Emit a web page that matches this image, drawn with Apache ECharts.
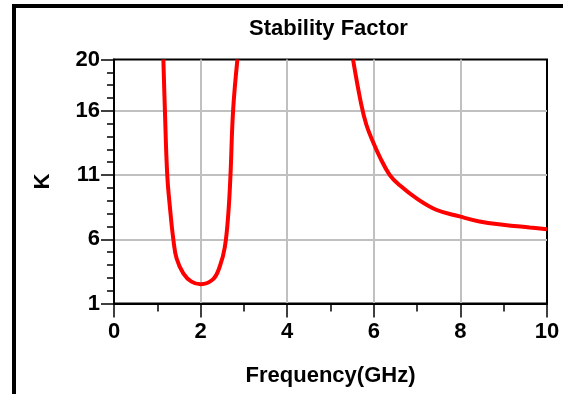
<!DOCTYPE html>
<html>
<head>
<meta charset="utf-8">
<title>Stability Factor</title>
<script src="https://cdn.jsdelivr.net/npm/echarts@6/dist/echarts.min.js"></script>
<style>
  html, body { margin: 0; padding: 0; background: #fff; overflow: hidden; }
  #chart { width: 563px; height: 394px; }
</style>
</head>
<body>
<div id="chart"></div>
<script>
// left branch (low frequency dip)
var freqA = [1.14, 1.176, 1.23, 1.30, 1.37, 1.446, 1.60, 1.79, 2.0, 2.29, 2.445, 2.56, 2.64, 2.69, 2.75, 2.85];
var kA    = [20.0, 16.0, 11.0, 8.2, 6.0, 4.5, 3.35, 2.7, 2.5, 2.9, 3.9, 5.4, 8.0, 11.0, 16.0, 20.0];
// right branch (decaying tail)
var freqB = [5.52, 5.71, 5.83, 5.98, 6.14, 6.37, 6.6, 6.98, 7.44, 7.98, 8.44, 8.98, 9.6, 10.0];
var kB    = [20.0, 16.5, 14.9, 13.6, 12.4, 11.0, 10.2, 9.2, 8.3, 7.78, 7.39, 7.13, 6.92, 6.79];
var yTickLabels = [1, 6, 11, 16, 20];

var font = "'Liberation Sans', Arial, sans-serif";

function pairs(xs, ys) {
  var out = [];
  for (var i = 0; i < xs.length; i++) out.push([xs[i], ys[i]]);
  return out;
}

var chart = echarts.init(document.getElementById('chart'));
var option = {
  animation: false,
  backgroundColor: '#fff',
  title: {
    text: 'Stability Factor',
    left: 244,
    top: 13,
    textStyle: { fontFamily: font, fontWeight: 'bold', fontSize: 22, color: '#000' }
  },
  graphic: [{
    type: 'rect',
    shape: { x: 14, y: 6, width: 700, height: 600 },
    style: { fill: null, stroke: '#000', lineWidth: 4 },
    silent: true
  }],
  grid: {
    left: 114, right: 16, top: 59.5, bottom: 90.5,
    show: true, borderColor: '#000', borderWidth: 2, backgroundColor: 'transparent'
  },
  xAxis: {
    type: 'value', min: 0, max: 10, interval: 2,
    name: 'Frequency(GHz)', nameLocation: 'middle', nameGap: 61,
    nameTextStyle: { fontFamily: font, fontWeight: 'bold', fontSize: 22, color: '#000' },
    axisLine: { show: true, lineStyle: { color: '#000', width: 2 } },
    axisTick: { show: true, inside: false, length: 14, lineStyle: { color: '#000', width: 1.5 } },
    minorTick: { show: true, splitNumber: 2, length: 8, lineStyle: { color: '#000', width: 1.5 } },
    axisLabel: { margin: 17, fontFamily: font, fontWeight: 'bold', fontSize: 22, color: '#000' },
    splitLine: { show: true, showMinLine: false, showMaxLine: false, lineStyle: { color: '#c0c0c0', width: 2 } }
  },
  yAxis: [{
    // real K scale, minor ticks each unit
    type: 'value', min: 1, max: 20, interval: 1,
    name: 'K', nameLocation: 'middle', nameGap: 60, nameRotate: 90,
    nameTextStyle: { fontFamily: font, fontWeight: 'bold', fontSize: 22, color: '#000' },
    axisLine: { show: true, lineStyle: { color: '#000', width: 2 } },
    axisTick: { show: true, inside: false, length: 7, lineStyle: { color: '#000', width: 1.5 } },
    axisLabel: { show: false },
    splitLine: { show: false }
  }, {
    // labelled ticks at 1, 6, 11, 16, 20 (offset by 1)
    type: 'value', min: 0, max: 19, interval: 5, position: 'left',
    axisLine: { show: false },
    axisTick: { show: true, inside: false, length: 13, lineStyle: { color: '#000', width: 1.5 } },
    axisLabel: {
      margin: 14, fontFamily: font, fontWeight: 'bold', fontSize: 22, color: '#000',
      formatter: function (v) { return yTickLabels.indexOf(v + 1) >= 0 ? String(v + 1) : ''; }
    },
    splitLine: { show: true, showMinLine: false, showMaxLine: false, lineStyle: { color: '#c0c0c0', width: 2 } }
  }],
  series: [{
    type: 'line', yAxisIndex: 0, data: pairs(freqA, kA),
    showSymbol: false, smooth: 0.4, clip: true,
    lineStyle: { color: '#ff0000', width: 4 }, z: 5
  }, {
    type: 'line', yAxisIndex: 0, data: pairs(freqB, kB),
    showSymbol: false, smooth: 0.4, clip: true,
    lineStyle: { color: '#ff0000', width: 4 }, z: 5
  }]
};
chart.setOption(option);
</script>
</body>
</html>
